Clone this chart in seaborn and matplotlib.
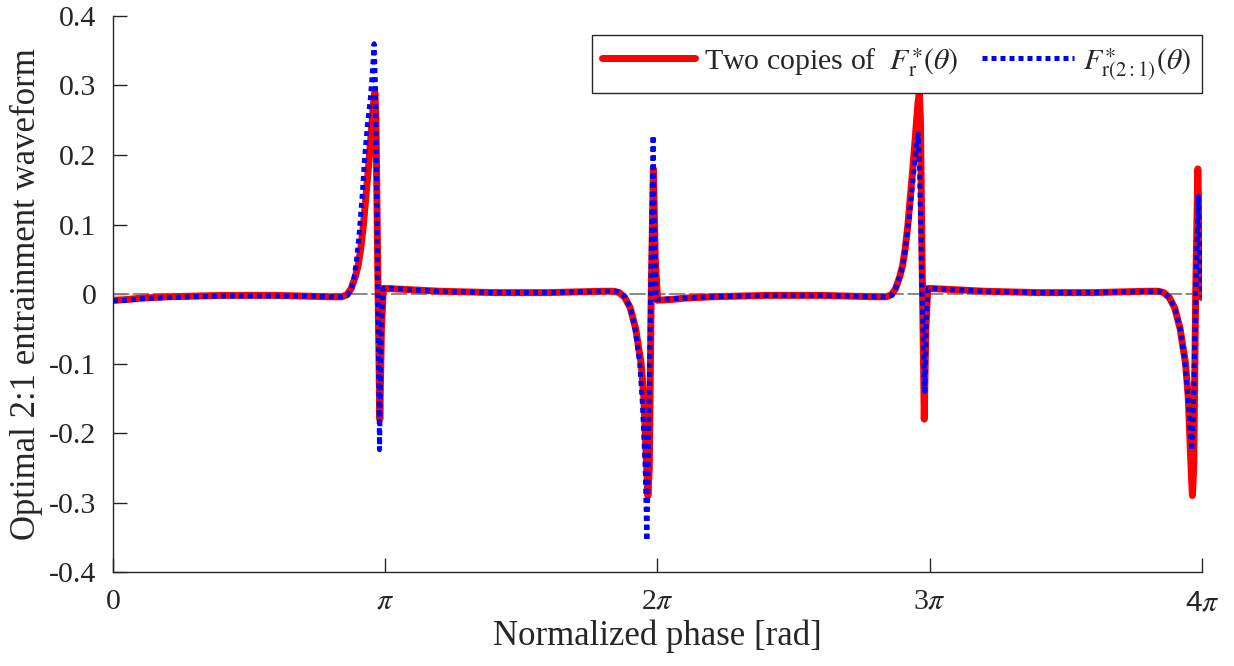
import numpy as np
import pandas as pd
import matplotlib
matplotlib.use("Agg")
import matplotlib.pyplot as plt
import seaborn as sns

# ---- data (phase in units of pi) ----
# one period of F_r*(theta), theta in [0, 2pi]
red_phase = [0.00, 0.05, 0.10, 0.20, 0.30, 0.40, 0.50, 0.60, 0.70, 0.80, 0.84, 0.86,
             0.875, 0.89, 0.90, 0.91, 0.92, 0.93, 0.94, 0.95, 0.957, 0.962, 0.966,
             0.972, 0.980, 0.986, 0.993, 1.00, 1.10, 1.20, 1.30, 1.40, 1.50, 1.60,
             1.70, 1.80, 1.84, 1.86, 1.88, 1.90, 1.92, 1.94, 1.95, 1.958, 1.965,
             1.970, 1.977, 1.985, 1.992, 2.00]
red_value = [-0.009, -0.008, -0.006, -0.004, -0.003, -0.002, -0.002, -0.002, -0.003,
             -0.004, -0.004, -0.001, 0.008, 0.025, 0.040, 0.065, 0.100, 0.145, 0.190,
             0.240, 0.275, 0.290, 0.250, 0.050, -0.180, -0.050, 0.008, 0.008, 0.006,
             0.004, 0.003, 0.002, 0.002, 0.002, 0.003, 0.004, 0.004, 0.002, -0.005,
             -0.020, -0.050, -0.100, -0.150, -0.230, -0.290, -0.250, 0.000, 0.180,
             0.050, -0.005]

# F_r(2:1)*(theta), theta in [0, 4pi]
blue_phase = [0.00, 0.05, 0.10, 0.20, 0.30, 0.40, 0.50, 0.60, 0.70, 0.80, 0.84, 0.86,
              0.875, 0.885, 0.895, 0.905, 0.915, 0.925, 0.935, 0.945, 0.952, 0.959,
              0.964, 0.970, 0.979, 0.985, 0.992, 1.00, 1.10, 1.20, 1.30, 1.40, 1.50,
              1.60, 1.70, 1.80, 1.84, 1.86, 1.88, 1.90, 1.92, 1.935, 1.945, 1.955,
              1.961, 1.966, 1.975, 1.984, 1.989, 1.995, 2.00, 2.10, 2.20, 2.30, 2.40,
              2.50, 2.60, 2.70, 2.80, 2.84, 2.86, 2.875, 2.89, 2.90, 2.91, 2.92, 2.93,
              2.94, 2.95, 2.958, 2.963, 2.972, 2.982, 2.988, 2.994, 3.00, 3.10, 3.20,
              3.30, 3.40, 3.50, 3.60, 3.70, 3.80, 3.84, 3.86, 3.88, 3.90, 3.92, 3.935,
              3.945, 3.955, 3.963, 3.968, 3.977, 3.987, 3.993, 4.00]
blue_value = [-0.010, -0.009, -0.007, -0.005, -0.004, -0.003, -0.003, -0.003, -0.003,
              -0.004, -0.004, -0.002, 0.006, 0.022, 0.050, 0.090, 0.140, 0.200, 0.245,
              0.280, 0.315, 0.360, 0.300, 0.100, -0.224, -0.050, 0.008, 0.009, 0.006,
              0.004, 0.003, 0.002, 0.002, 0.002, 0.003, 0.004, 0.004, 0.003, -0.004,
              -0.020, -0.055, -0.100, -0.160, -0.250, -0.355, -0.250, 0.000, 0.228,
              0.080, -0.008, -0.008, -0.006, -0.004, -0.003, -0.002, -0.002, -0.002,
              -0.003, -0.004, -0.004, -0.002, 0.008, 0.025, 0.040, 0.065, 0.095, 0.130,
              0.170, 0.210, 0.230, 0.180, 0.000, -0.140, -0.030, 0.008, 0.008, 0.006,
              0.004, 0.003, 0.002, 0.002, 0.002, 0.003, 0.004, 0.004, 0.002, -0.005,
              -0.020, -0.050, -0.090, -0.130, -0.180, -0.225, -0.180, 0.000, 0.140,
              0.040, -0.005]

x_tick_labels = ["0", r"$\pi$", r"2$\pi$", r"3$\pi$", r"4$\pi$"]
y_ticks = [-0.4, -0.3, -0.2, -0.1, 0, 0.1, 0.2, 0.3, 0.4]
y_tick_labels = ["-0.4", "-0.3", "-0.2", "-0.1", "0", "0.1", "0.2", "0.3", "0.4"]

label_red = r"Two copies of  $F^{\ast}_{\mathrm{r}}(\theta)$"
label_blue = r"$F^{\ast}_{\mathrm{r(2:1)}}(\theta)$"

# ---- build frames ----
red_x = np.concatenate([np.array(red_phase), np.array(red_phase) + 2.0]) * np.pi
red_y = np.concatenate([red_value, red_value])
df_red = pd.DataFrame({"x": red_x, "y": red_y})
df_blue = pd.DataFrame({"x": np.array(blue_phase) * np.pi, "y": blue_value})

sns.set_style("ticks")
plt.rcParams["font.family"] = ["Liberation Serif", "DejaVu Serif"]
plt.rcParams["mathtext.fontset"] = "stix"

fig = plt.figure(figsize=(12.34, 6.66), dpi=100)
ax = fig.add_axes([0.0916, 0.1411, 0.8824, 0.8349])

ax.plot([0, 4 * np.pi], [0, 0], color="#808080", lw=1.3, dashes=(9, 2), zorder=1)

sns.lineplot(data=df_red, x="x", y="y", sort=False, estimator=None, ax=ax,
             color="#ff0000", linewidth=5.0, label=label_red, zorder=2)
lr = ax.get_lines()[-1]
lr.set_solid_joinstyle("round")
lr.set_solid_capstyle("round")
sns.lineplot(data=df_blue, x="x", y="y", sort=False, estimator=None, ax=ax,
             color="#0000ff", linewidth=3.6, label=label_blue, zorder=3)
lb = ax.get_lines()[-1]
lb.set_linestyle((0, (1.0, 0.8)))
lb.set_dash_capstyle("butt")

ax.set_xlim(0, 4 * np.pi)
ax.set_ylim(-0.4, 0.4)
ax.set_xticks([0, np.pi, 2 * np.pi, 3 * np.pi, 4 * np.pi])
ax.set_xticklabels(x_tick_labels)
ax.set_yticks(y_ticks)
ax.set_yticklabels(y_tick_labels)
ax.tick_params(direction="in", length=10, width=1.0, labelsize=21.5, colors="#262626",
               pad=12)
ax.tick_params(axis="x", pad=12)
# the last tick label is drawn in a sans face in the reference
xtl = ax.get_xticklabels()
xtl[-1].set_fontfamily(["Liberation Sans", "DejaVu Sans"])
ax.set_xlabel("Normalized phase [rad]", fontsize=25, color="#262626", labelpad=2)
ax.set_ylabel("Optimal 2:1 entrainment waveform", fontsize=25, color="#262626",
              labelpad=4)
sns.despine(ax=ax)
for s in ["left", "bottom"]:
    ax.spines[s].set_color("#262626")
    ax.spines[s].set_linewidth(1.0)

leg = ax.legend(loc="upper right", ncol=2, fontsize=21.5, frameon=True, fancybox=False,
                edgecolor="#262626", framealpha=1, handlelength=3.1, columnspacing=0.8,
                handletextpad=0.3, borderpad=0.35, borderaxespad=0.0,
                bbox_to_anchor=(1.0, 0.965))
leg.get_frame().set_linewidth(1.0)

fig.savefig("out.png", dpi=100)
